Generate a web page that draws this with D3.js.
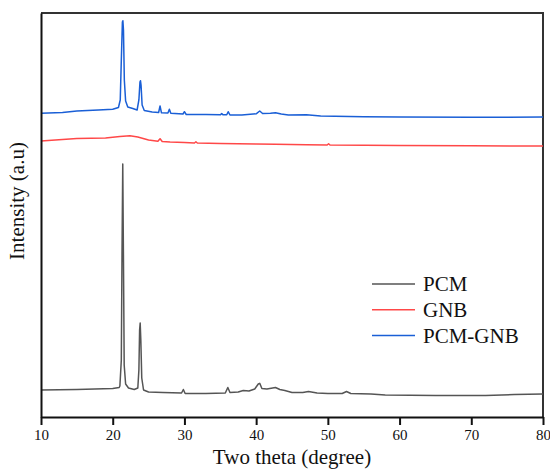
<!DOCTYPE html>
<html>
<head>
<meta charset="utf-8">
<script src="https://cdn.jsdelivr.net/npm/d3@7"></script>
<style>
  body { margin: 0; background: #fff; }
  svg text { font-family: "Liberation Serif", "Times New Roman", serif; fill: #111; }
</style>
</head>
<body>
<div id="chart"></div>
<script>
// x ticks
const xTicks = [10, 20, 30, 40, 50, 60, 70, 80];

// PCM
const pcmTheta = [10, 15, 20, 20.9, 21.0, 21.2, 21.3, 21.4, 21.5, 21.6, 21.8, 22.2, 23.0, 23.5, 23.65, 23.75, 23.83, 23.92, 24.05, 24.3,
  25, 27, 29.6, 29.85, 30.1, 33, 35.7, 36.05, 36.35, 37.5, 38.2, 39, 39.8, 40.3, 40.5, 40.8, 41.5, 42.3, 42.7, 43.3,
  44, 45, 46.5, 47.3, 48.5, 50, 52, 52.6, 53.2, 56, 58, 65, 72, 76, 80];
const pcmIntensity = [6.68, 6.81, 7.05, 7.30, 7.67, 14.11, 41.34, 62.62, 38.86, 12.87, 8.17, 7.18, 6.81, 7.18, 11.63, 21.53, 23.27, 19.06, 9.65, 6.68,
  6.19, 6.06, 5.94, 6.81, 5.82, 5.82, 5.94, 7.30, 6.06, 6.19, 6.56, 6.44, 6.93, 8.17, 8.34, 7.05, 6.93, 7.18, 7.30, 6.81,
  6.56, 6.06, 6.06, 6.31, 5.94, 5.82, 5.82, 6.31, 5.82, 5.69, 5.45, 5.32, 5.32, 5.57, 5.69];

// GNB
const gnbTheta = [10, 13, 15, 19, 21, 22.4, 23.5, 25, 26.3, 26.6, 26.9, 28, 30, 31.4, 31.6, 31.8, 35, 40, 42.7, 47, 49.9, 50.1, 50.3, 60, 70, 80];
const gnbIntensity = [68.32, 68.69, 68.94, 69.06, 69.43, 69.60, 69.31, 68.56, 68.24, 68.89, 68.19, 68.07, 67.95, 67.82, 68.12, 67.82, 67.70, 67.57, 67.50, 67.38, 67.33, 67.65, 67.33, 67.20, 67.13, 67.08];

// PCM-GNB
const compTheta = [10, 13, 15, 18, 20, 20.8, 21.05, 21.2, 21.35, 21.42, 21.5, 21.62, 21.8, 22.1, 22.8, 23.4, 23.65, 23.8, 23.87, 23.95,
  24.1, 24.4, 25.5, 26.4, 26.6, 26.8, 27.7, 27.9, 28.1, 29.8, 30.0, 30.25, 33, 35.0, 35.2, 35.4, 35.9, 36.1, 36.35, 38,
  40, 40.5, 40.9, 42, 42.7, 43.5, 44.5, 47, 49, 55, 60, 70, 80];
const compIntensity = [75.17, 75.37, 75.74, 75.99, 76.16, 76.61, 78.47, 88.37, 97.77, 98.09, 95.79, 83.42, 78.22, 76.73, 76.36, 75.99, 78.47, 82.92, 83.24, 82.18,
  77.23, 75.87, 75.50, 75.37, 76.98, 75.30, 75.25, 76.16, 75.17, 75.00, 75.57, 74.88, 74.88, 74.80, 75.10, 74.80, 74.80, 75.57, 74.75, 74.75,
  75.05, 75.74, 75.12, 75.17, 75.32, 75.00, 74.75, 74.83, 74.50, 74.33, 74.26, 74.18, 74.26];

const seriesNames = ["PCM", "GNB", "PCM-GNB"];
const seriesColors = ["#555555", "#ff4848", "#1a5fd6"];

const width = 550, height = 472;
const margin = { top: 13, right: 7, bottom: 55, left: 41 };
const innerWidth = width - margin.left - margin.right;
const innerHeight = height - margin.top - margin.bottom;
const serif = "'Liberation Serif', 'Times New Roman', serif";

const series = [
  { name: seriesNames[0], color: seriesColors[0], pts: pcmTheta.map((t, i) => [t, pcmIntensity[i]]) },
  { name: seriesNames[1], color: seriesColors[1], pts: gnbTheta.map((t, i) => [t, gnbIntensity[i]]) },
  { name: seriesNames[2], color: seriesColors[2], pts: compTheta.map((t, i) => [t, compIntensity[i]]) }
];

const xScale = d3.scaleLinear().domain([10, 80]).range([0, innerWidth]);
const yScale = d3.scaleLinear().domain([0, 100]).range([innerHeight, 0]);

const svg = d3.select("#chart").append("svg")
  .attr("width", width)
  .attr("height", height)
  .append("g")
  .attr("transform", "translate(" + margin.left + "," + margin.top + ")");

// frame (top and right)
svg.append("path")
  .attr("d", `M0,0H${innerWidth}V${innerHeight}`)
  .attr("fill", "none")
  .attr("stroke", "#333")
  .attr("stroke-width", 2);

// lines
const line = d3.line().x(d => xScale(d[0])).y(d => yScale(d[1]));
series.forEach(s => {
  svg.append("path")
    .datum(s.pts)
    .attr("d", line)
    .attr("fill", "none")
    .attr("stroke", s.color)
    .attr("stroke-width", 1.5)
    .attr("stroke-linejoin", "round");
});

// x axis
const xAxis = svg.append("g")
  .attr("transform", `translate(0,${innerHeight})`)
  .attr("font-family", serif)
  .call(d3.axisBottom(xScale).tickValues(xTicks).tickSize(8).tickPadding(4).tickSizeOuter(0));
xAxis.select(".domain").attr("stroke", "#111").attr("stroke-width", 2);
xAxis.selectAll(".tick line").attr("stroke", "#111").attr("stroke-width", 2);
xAxis.selectAll(".tick text")
  .style("font-family", serif)
  .style("font-size", "15px")
  .attr("fill", "#111");

// y axis (no ticks)
const yAxis = svg.append("g")
  .call(d3.axisLeft(yScale).tickValues([]).tickSizeOuter(0));
yAxis.select(".domain").attr("stroke", "#111").attr("stroke-width", 2);

// axis labels
svg.append("text")
  .attr("x", xScale(45))
  .attr("y", innerHeight + 47)
  .attr("text-anchor", "middle")
  .style("font-family", serif)
  .style("font-size", "21px")
  .text("Two theta (degree)");

svg.append("text")
  .attr("transform", `translate(${24 - margin.left},${201 - margin.top}) rotate(-90)`)
  .attr("text-anchor", "middle")
  .style("font-family", serif)
  .style("font-size", "21px")
  .text("Intensity (a.u)");

// legend
const legend = svg.append("g")
  .attr("transform", `translate(${372 - margin.left},${284 - margin.top})`);
series.forEach((s, i) => {
  const g = legend.append("g").attr("transform", `translate(0,${i * 25.8})`);
  g.append("line")
    .attr("x1", 0).attr("x2", 43)
    .attr("y1", 0).attr("y2", 0)
    .attr("stroke", s.color)
    .attr("stroke-width", 1.5);
  g.append("text")
    .attr("x", 51)
    .attr("y", 7)
    .style("font-family", serif)
    .style("font-size", "21px")
    .text(s.name);
});
</script>
</body>
</html>
